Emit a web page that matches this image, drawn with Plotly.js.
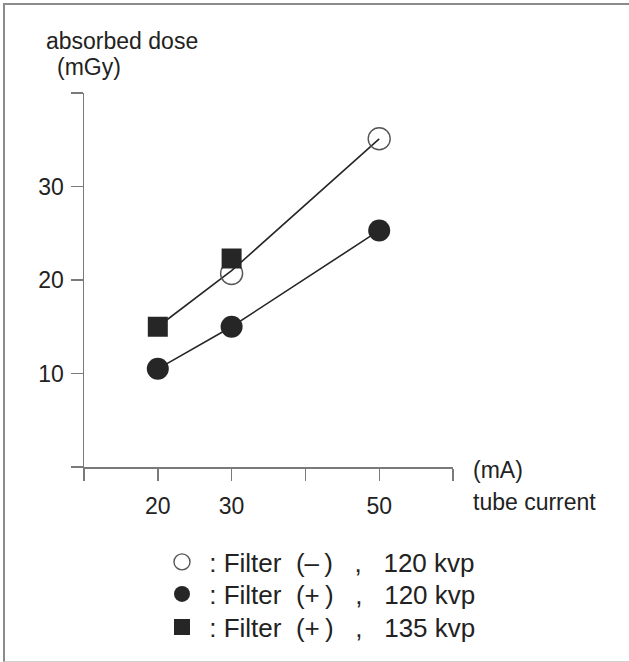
<!DOCTYPE html>
<html>
<head>
<meta charset="utf-8">
<script src="https://cdn.plot.ly/plotly-3.0.1.min.js"></script>
<style>
  html, body { margin: 0; padding: 0; background: #fff; }
  #wrap { position: relative; width: 629px; height: 662px; overflow: hidden; }
  #chart { width: 629px; height: 662px; }
  #frame { position: absolute; left: 3px; top: 3px; width: 700px; height: 656px;
           border-left: 2px solid #8c8c8c; border-top: 2px solid #8c8c8c;
           border-bottom: 1px solid #d0d0d0; pointer-events: none; }
</style>
</head>
<body>
<div id="wrap"><div id="chart"></div><div id="frame"></div></div>
<script>
// ---- data ----
const openCircleX = [30, 50];
const openCircleY = [20.7, 35.1];
const filledCircleX = [20, 30, 50];
const filledCircleY = [10.5, 15.0, 25.3];
const squareX = [20, 30];
const squareY = [15.0, 22.3];
const upperLineX = [20, 30, 50];
const upperLineY = [15.0, 21.0, 35.1];

const xTickVals = [10, 20, 30, 40, 50, 60];
const xTickText = ['', '20', '30', '', '50', ''];
const yTickVals = [0, 10, 20, 30, 40];
const yTickText = ['', '10', '20', '30', ''];

const S = '\u00A0', TH = '\u2009';
const legendNames = [
  S + ':' + S + 'Filter' + S + S + '(\u2013' + TH + ')' + S + S + S + ',' + S + S + S + '120 kvp',
  S + ':' + S + 'Filter' + S + S + '(+' + TH + ')' + S + S + S + ',' + S + S + S + '120 kvp',
  S + ':' + S + 'Filter' + S + S + '(+' + TH + ')' + S + S + S + ',' + S + S + S + '135 kvp'
];

const FONT = 'Liberation Sans, Arial, Noto Sans CJK JP, sans-serif';
const INK = '#262626';
const AXIS = '#7a7a7a';

// plot area in pixels
const L = 84, R = 176, T = 93, B = 195;
const W = 629 - L - R, H = 662 - T - B;
const px = x => (x - L) / W;
const py = y => (662 - B - y) / H;

const legendFont = { family: FONT, size: 26, color: '#222' };
const legendBox = rowY => ({
  x: px(162), y: py(rowY), xanchor: 'left', yanchor: 'middle',
  font: legendFont, bgcolor: 'rgba(0,0,0,0)', borderwidth: 0
});

const traces = [
  { x: upperLineX, y: upperLineY, mode: 'lines', showlegend: false,
    line: { color: INK, width: 1.6 }, hoverinfo: 'skip' },
  { x: filledCircleX, y: filledCircleY, mode: 'lines', showlegend: false,
    line: { color: INK, width: 1.6 }, hoverinfo: 'skip' },
  { x: openCircleX, y: openCircleY, mode: 'markers', name: legendNames[0], legend: 'legend',
    marker: { symbol: 'circle-open', size: 22, color: '#555', line: { width: 1.4, color: '#555' } } },
  { x: filledCircleX, y: filledCircleY, mode: 'markers', name: legendNames[1], legend: 'legend2',
    marker: { symbol: 'circle', size: 22, color: INK } },
  { x: squareX, y: squareY, mode: 'markers', name: legendNames[2], legend: 'legend3',
    marker: { symbol: 'square', size: 20, color: INK } }
];

const layout = {
  width: 629, height: 662,
  margin: { l: L, r: R, t: T, b: B, pad: 0 },
  paper_bgcolor: '#fff', plot_bgcolor: '#fff',
  font: { family: FONT, size: 23, color: '#222' },
  showlegend: true,
  legend: legendBox(562),
  legend2: legendBox(594),
  legend3: legendBox(627),
  xaxis: {
    range: [10, 60], showgrid: false, zeroline: false,
    showline: true, linecolor: AXIS, linewidth: 1.5,
    ticks: 'outside', ticklen: 12, tickwidth: 1.4, tickcolor: AXIS,
    tickvals: xTickVals, ticktext: xTickText,
    tickfont: { family: FONT, size: 23, color: '#222' },
    ticklabelstandoff: 6
  },
  yaxis: {
    range: [0, 40], showgrid: false, zeroline: false,
    showline: true, linecolor: AXIS, linewidth: 1.5,
    ticks: 'outside', ticklen: 12, tickwidth: 1.4, tickcolor: AXIS,
    tickvals: yTickVals, ticktext: yTickText,
    tickfont: { family: FONT, size: 23, color: '#222' },
    ticklabelstandoff: 2
  },
  annotations: [
    { text: 'absorbed dose', xref: 'paper', yref: 'paper', x: px(44), y: py(40.5),
      xanchor: 'left', yanchor: 'middle', showarrow: false, font: { size: 23 } },
    { text: '(mGy)', xref: 'paper', yref: 'paper', x: px(55), y: py(67),
      xanchor: 'left', yanchor: 'middle', showarrow: false, font: { size: 23 } },
    { text: '(mA)', xref: 'paper', yref: 'paper', x: px(471), y: py(470),
      xanchor: 'left', yanchor: 'middle', showarrow: false, font: { size: 23 } },
    { text: 'tube current', xref: 'paper', yref: 'paper', x: px(471), y: py(502),
      xanchor: 'left', yanchor: 'middle', showarrow: false, font: { size: 23 } }
  ]
};

Plotly.newPlot('chart', traces, layout, { displayModeBar: false, staticPlot: true });
</script>
</body>
</html>
